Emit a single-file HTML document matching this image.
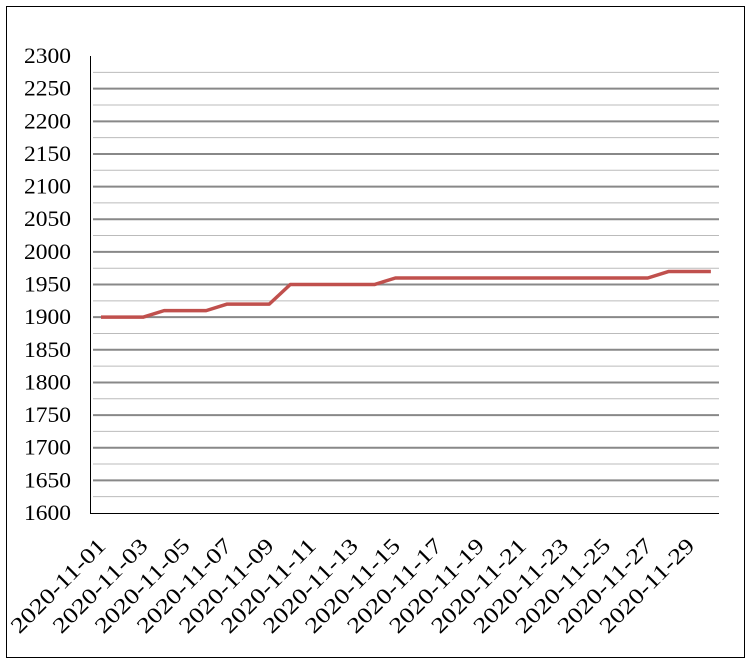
<!DOCTYPE html>
<html><head><meta charset="utf-8"><style>body{margin:0;background:#fff}</style></head><body>
<svg width="752" height="664" xmlns="http://www.w3.org/2000/svg" font-family="Liberation Serif, serif" font-size="22">
<rect x="6.5" y="6.5" width="738" height="651" fill="#fff" stroke="#000" stroke-width="1"/>
<g id="grid"></g>
<line x1="90.5" y1="56" x2="90.5" y2="513" stroke="#000" stroke-width="1"/>
<line x1="90" y1="513.5" x2="719" y2="513.5" stroke="#000" stroke-width="1"/>
<g id="yl" text-anchor="end"></g>
<g id="xl" text-anchor="end"></g>
<polyline id="ln" fill="none" stroke="#c0504d" stroke-width="3.5" stroke-linejoin="round"/>
</svg>
<script>
const ns="http://www.w3.org/2000/svg";
const Y=v=>513-(v-1600)/50*32.64;
const g=document.getElementById('grid'),yl=document.getElementById('yl'),xl=document.getElementById('xl');
for(let v=1625;v<=2300;v+=25){const y=Y(v);const l=document.createElementNS(ns,'line');
l.setAttribute('x1',93);l.setAttribute('x2',719);l.setAttribute('y1',y);l.setAttribute('y2',y);
const major=v%50==0;l.setAttribute('stroke',major?'#888':'#bbb');l.setAttribute('stroke-width',major?2:1);
if(v<2300)g.appendChild(l);}
for(let v=1600;v<=2300;v+=50){const t=document.createElementNS(ns,'text');t.setAttribute('x',71);t.setAttribute('y',Y(v)+7);
t.setAttribute('textLength',47);t.setAttribute('lengthAdjust','spacingAndGlyphs');t.textContent=v;yl.appendChild(t);}
const X=i=>101+i*21.03;
const data=[1900,1900,1900,1910,1910,1910,1920,1920,1920,1950,1950,1950,1950,1950,1960,1960,1960,1960,1960,1960,1960,1960,1960,1960,1960,1960,1960,1970,1970,1970];
document.getElementById('ln').setAttribute('points',data.map((v,i)=>X(i)+','+Y(v)).join(' '));
for(let i=0;i<30;i+=2){const t=document.createElementNS(ns,'text');const x=X(i)+6,y=547;
t.setAttribute('transform',`translate(${x},${y}) rotate(-45)`);t.setAttribute('textLength',124);t.setAttribute('lengthAdjust','spacingAndGlyphs');
t.textContent='2020-11-'+String(i+1).padStart(2,'0');xl.appendChild(t);}
</script>
</body></html>
